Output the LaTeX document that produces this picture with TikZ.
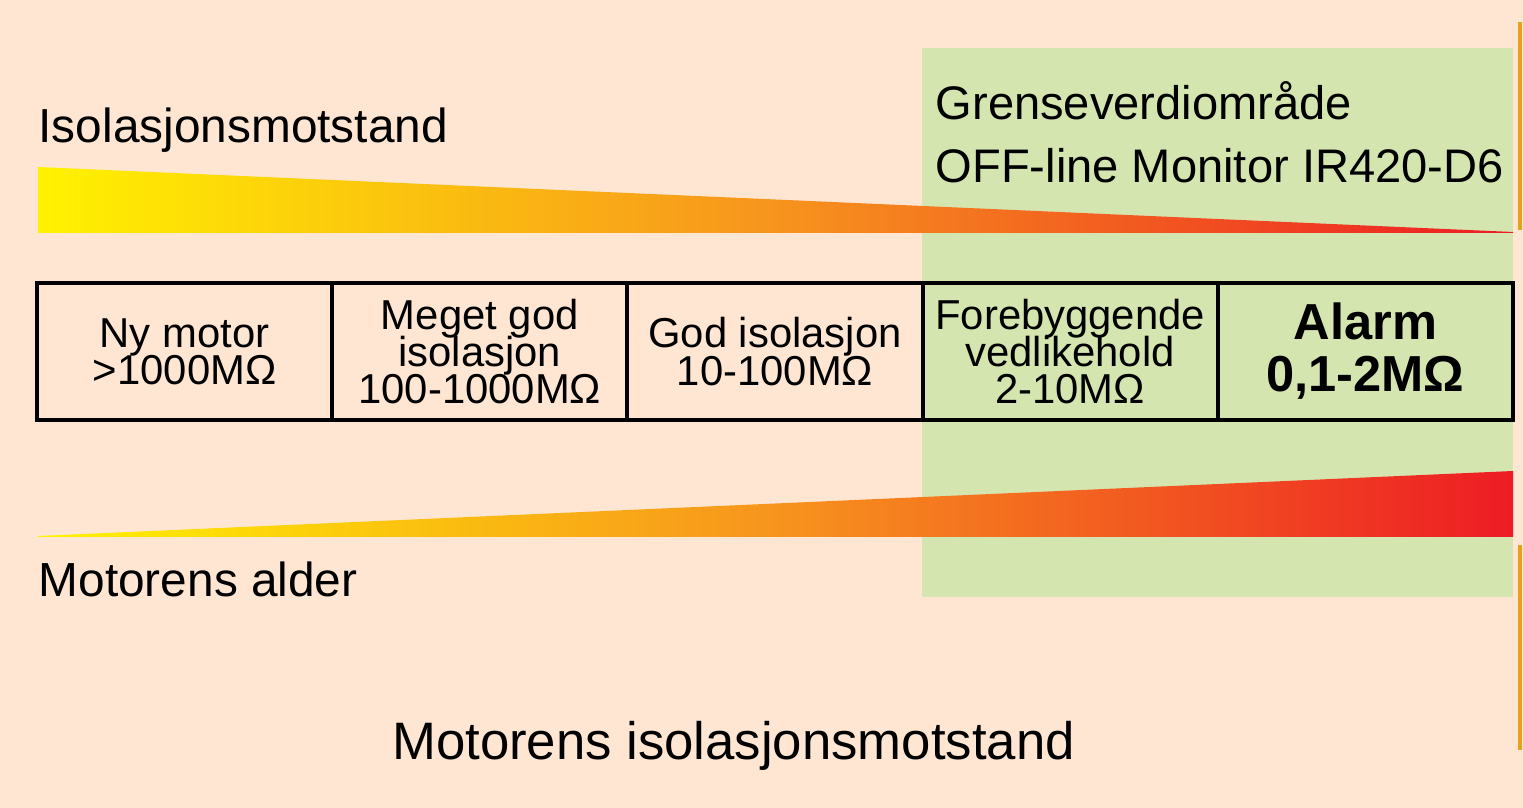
\documentclass[tikz,border=0pt]{standalone}
\usepackage{fontspec}
\setmainfont{Liberation Sans}
\definecolor{peach}{HTML}{FEE6D3}
\definecolor{limitgreen}{HTML}{D5E5B0}
\definecolor{hotyellow}{HTML}{FFF200}
\definecolor{hotorange}{HTML}{F7941D}
\definecolor{hotred}{HTML}{ED1C24}
\definecolor{rim}{HTML}{E5A21A}
\usetikzlibrary{positioning}
\newcommand{\tightlines}{\setlength{\lineskiplimit}{-20pt}}
\tikzset{
  cell/.style={
    draw=black, line width=1.1pt, outer sep=0pt, inner sep=0pt,
    minimum width=2.952cm, minimum height=1.37cm, align=center,
    font=\fontsize{11.9}{10.6}\selectfont\tightlines
  },
  alarmcell/.style={cell, font=\bfseries\fontsize{14.4}{14.8}\selectfont\tightlines},
  heading/.style={anchor=base west, inner sep=0pt, font=\fontsize{13.6}{16}\selectfont},
  zonehead/.style={heading, font=\fontsize{13.4}{16}\selectfont},
  wedge/.style={left color=hotyellow, right color=hotred, middle color=hotorange},
  rimline/.style={draw=rim, line width=1pt},
}

\begin{document}
\begin{tikzpicture}
  % Background and limit zone
  \fill[peach] (0,0) rectangle (15.23,8.08);
  \fill[limitgreen] (9.22,2.11) rectangle (15.13,7.60);
  \draw[rimline] (15.20,7.86) -- (15.20,5.78);
  \draw[rimline] (15.20,2.63) -- (15.20,0.58);

  % Wedges
  \shade[wedge] (0.38,5.75) -- (0.38,6.41) -- (15.13,5.76) -- (15.13,5.75) -- cycle;
  \shade[wedge] (0.38,2.71) -- (0.38,2.72) -- (15.13,3.37) -- (15.13,2.71) -- cycle;

  % Labels
  \node[heading] (resist) at (0.38,6.65) {Isolasjonsmotstand};
  \node[zonehead] (grense) at (9.35,6.88) {Grenseverdiområde};
  \node[zonehead] (monitor) at (9.35,6.25) {OFF-line Monitor IR420-D6};
  \node[heading] (alder) at (0.38,2.11) {Motorens alder};
  \node[anchor=base, inner sep=0pt, font=\fontsize{15}{18}\selectfont]
    (title) at (7.335,0.48) {Motorens isolasjonsmotstand};

  % Cells
  \node[cell] (ny) at (1.846,4.565) {Ny motor\\>1000MΩ};
  \node[cell, right=0pt of ny] (meget) {Meget god\\isolasjon\\100-1000MΩ};
  \node[cell, right=0pt of meget] (god) {God isolasjon\\10-100MΩ};
  \node[cell, right=0pt of god] (forebygg) {Forebyggende\\vedlikehold\\2-10MΩ};
  \node[alarmcell, right=0pt of forebygg] (alarm) {Alarm\\0,1-2MΩ};
\end{tikzpicture}
\end{document}
